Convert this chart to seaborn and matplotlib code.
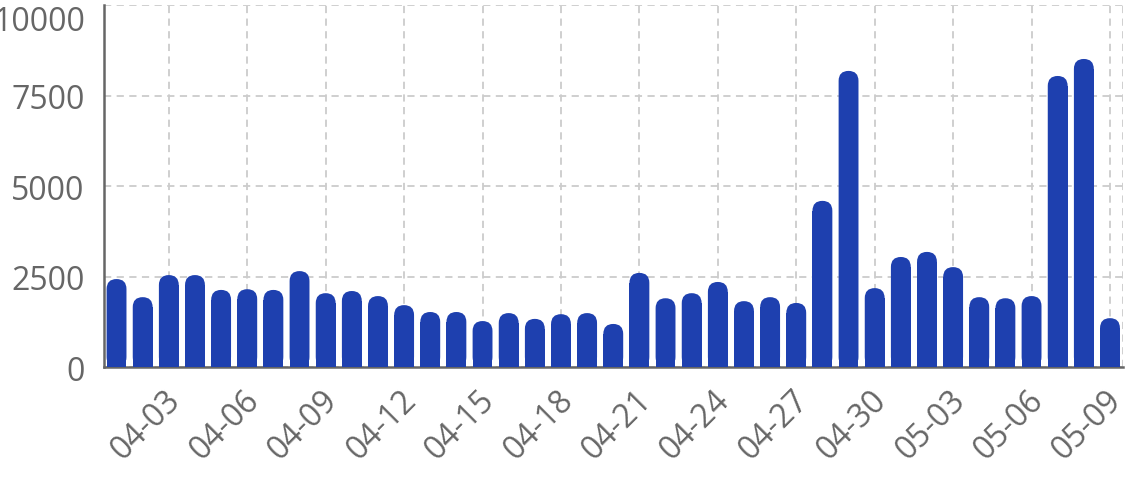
import pandas as pd
import matplotlib
matplotlib.use('Agg')
import matplotlib.pyplot as plt
import matplotlib.transforms as mtransforms
import seaborn as sns
from matplotlib.patches import FancyBboxPatch, Rectangle

# Daily values (04-01 .. 05-09)
dates = pd.date_range('2024-04-01', '2024-05-09').strftime('%m-%d').tolist()
values = [2430, 1930, 2540, 2540, 2130, 2150, 2130, 2650, 2040, 2100,
          1960, 1710, 1520, 1520, 1270, 1490, 1330, 1460, 1490, 1190,
          2600, 1900, 2040, 2350, 1820, 1930, 1770, 4590, 8180, 2180,
          3040, 3180, 2760, 1930, 1900, 1960, 8040, 8510, 1350]
y_ticks = [0, 2500, 5000, 7500, 10000]

df = pd.DataFrame({'date': dates, 'value': values})

sns.set_style('white')
plt.rcParams['font.family'] = ['Open Sans', 'DejaVu Sans']

bar_color = '#1e40af'
text_color = '#666666'

fig = plt.figure(figsize=(11.39, 4.85), dpi=100)
ax = fig.add_axes([0.0913, 0.2412, 0.8947, 0.7464])

sns.barplot(data=df, x='date', y='value', color=bar_color, width=0.76,
            saturation=1, ax=ax, zorder=3)

ax.set_xlim(-0.48, len(dates) - 0.5)
ax.set_ylim(0, 10000)

# swap the plain bars for bars with rounded tops
fig.canvas.draw()
px_per_x = ax.transData.transform((1, 0))[0] - ax.transData.transform((0, 0))[0]
px_per_y = ax.transData.transform((0, 1))[1] - ax.transData.transform((0, 0))[1]
for p in list(ax.patches):
    x0, w, h = p.get_x(), p.get_width(), p.get_height()
    p.set_visible(False)
    r = w / 2
    ry = r * px_per_x / px_per_y
    ax.add_patch(FancyBboxPatch((x0, 0), w, h,
                                boxstyle=f'round,pad=0,rounding_size={r}',
                                mutation_aspect=ry / r,
                                fc=bar_color, ec='none', zorder=3))
    ax.add_patch(Rectangle((x0, 0), w, max(h - ry, 0), fc=bar_color,
                           ec='none', zorder=3))

tick_idx = list(range(2, len(dates), 3))
ax.set_xticks(tick_idx)
ax.set_xticklabels([dates[i] for i in tick_idx], rotation=45, ha='right',
                   va='center', rotation_mode='anchor')
ax.set_yticks(y_ticks)
ax.set_yticklabels([str(v) for v in y_ticks])
# top label sits just below its tick so it stays on the canvas
ax.get_yticklabels()[-1].set_va('top')

ax.grid(True, color='#cccccc', linestyle=(0, (4, 3)), linewidth=1.3, zorder=0)
ax.axvline(len(dates) - 0.5, color='#cccccc', linestyle=(0, (4, 3)),
           linewidth=1.3, zorder=0)

for side in ['top', 'right']:
    ax.spines[side].set_visible(False)
for side in ['left', 'bottom']:
    ax.spines[side].set_color(text_color)
    ax.spines[side].set_linewidth(1.8)

ax.tick_params(axis='both', colors=text_color, labelsize=23, length=8,
               width=1.8, direction='out')
ax.tick_params(axis='x', pad=10)
ax.tick_params(axis='y', pad=6)
ax.set_xlabel('')
ax.set_ylabel('')

# nudge the rotated date labels a little right, like the original
# (after tick_params, which resets the label transforms)
shift = mtransforms.ScaledTranslation(7 / 100, -3 / 100, fig.dpi_scale_trans)
for lab in ax.get_xticklabels():
    lab.set_transform(lab.get_transform() + shift)

fig.savefig('out.png', dpi=100)
